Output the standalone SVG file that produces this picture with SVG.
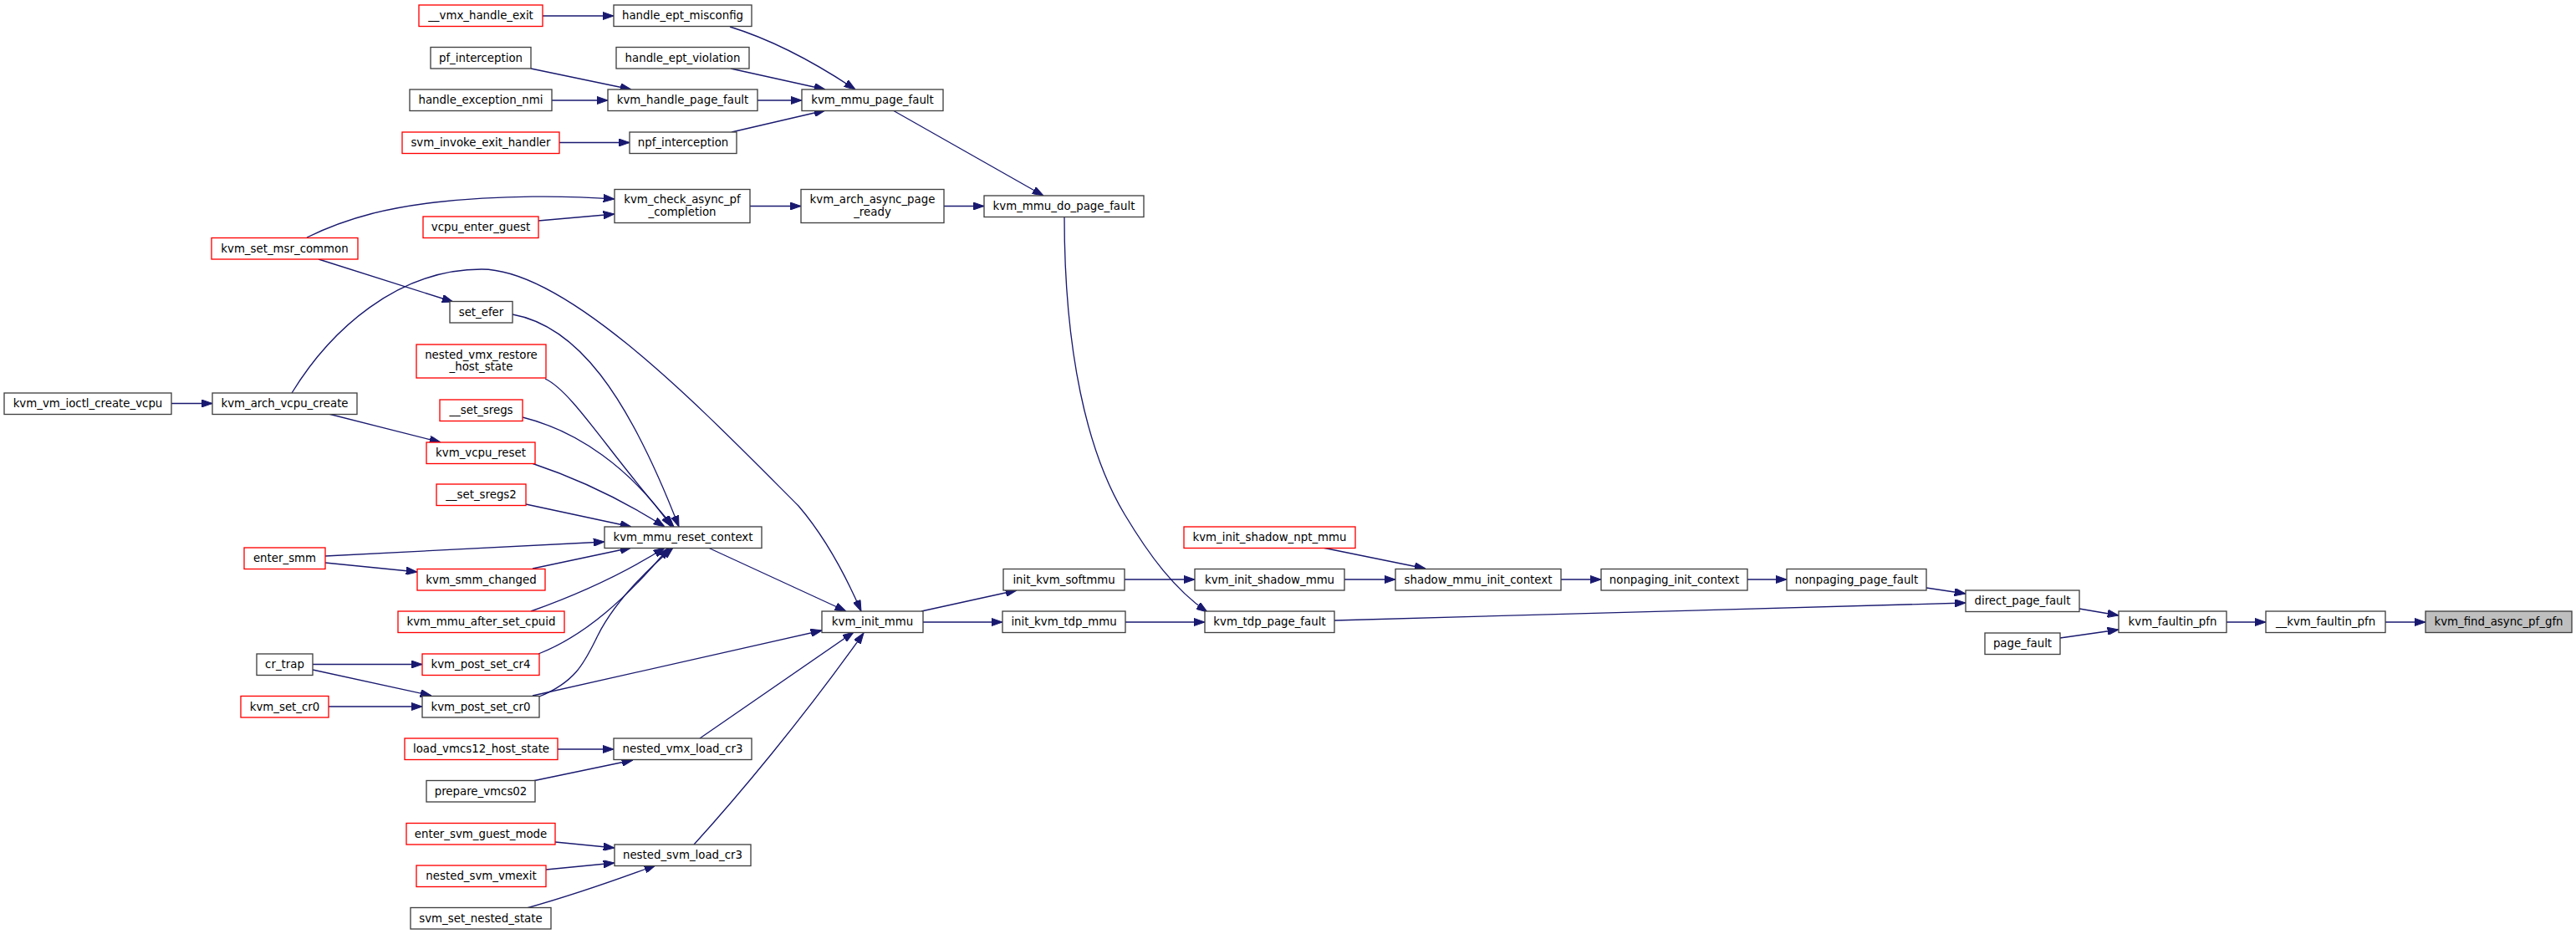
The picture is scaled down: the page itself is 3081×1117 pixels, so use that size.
<svg xmlns="http://www.w3.org/2000/svg" width="3081" height="1117" viewBox="0 0 3081 1117">
<style>
.n rect{fill:#ffffff;stroke:#404040;stroke-width:1.33}
.r rect{fill:#ffffff;stroke:#ff0000;stroke-width:1.33}
.root rect{fill:#bfbfbf;stroke:#404040;stroke-width:1.33}
text{font-family:"DejaVu Sans","Liberation Sans",sans-serif;font-size:13.33px;fill:#000000;text-anchor:middle}
.e path{fill:none;stroke:#191970;stroke-width:1.33;marker-end:url(#ah)}
</style>
<defs>
<marker id="ah" viewBox="0 0 13.3 9.34" refX="13.3" refY="4.67" markerWidth="13.3" markerHeight="9.34" markerUnits="userSpaceOnUse" orient="auto">
<path d="M0,0 L13.3,4.67 L0,9.34 Z" fill="#191970" stroke="#191970" stroke-width="1"/>
</marker>
</defs>
<rect width="3081" height="1117" fill="#ffffff"/>
<g id="connectors" class="e">
<path d="M2853,744 L2901,744"/>
<path d="M2663,744 L2710,744"/>
<path d="M2487,728 L2534,736"/>
<path d="M2464,763 L2534,753"/>
<path d="M2304,703 L2351,710"/>
<path d="M1596,742 L2351,721"/>
<path d="M2090,693 L2137,693"/>
<path d="M1867,693 L1915,693"/>
<path d="M1608,693 L1669,693"/>
<path d="M1582,655 L1705,680"/>
<path d="M1345,693 L1429,693"/>
<path d="M1273,259 C1273,420 1300,540 1345,615 C1375,665 1405,705 1444,732"/>
<path d="M1102,731 L1216,706"/>
<path d="M1104,744 L1199,744"/>
<path d="M1346,744 L1441,744"/>
<path d="M1068,132 L1248,234"/>
<path d="M1129,246.5 L1177,246.5"/>
<path d="M897,246.5 L958,246.5"/>
<path d="M873,32 C925,48 975,75 1023,107"/>
<path d="M874,82 L987,107"/>
<path d="M906,120 L959,120"/>
<path d="M875,158 L987,132"/>
<path d="M635,82 L755,107"/>
<path d="M660,120 L727,120"/>
<path d="M669,170.5 L753,170.5"/>
<path d="M649,19 L734,19"/>
<path d="M367,284 C420,258 470,248 520,242 C600,233 680,234 735,238"/>
<path d="M644,264 L735,256"/>
<path d="M381,310 L542,361"/>
<path d="M613,376 C690,390 750,470 812,630"/>
<path d="M652,453 C685,468 730,545 806,630"/>
<path d="M625,499 C690,515 755,560 803,630"/>
<path d="M636,554 C690,572 740,595 795,630"/>
<path d="M629,603 L755,630"/>
<path d="M349,470 C395,395 475,322 576,322 C680,322 845,495 955,605 C985,640 1010,685 1030,731"/>
<path d="M393,495 L527,529"/>
<path d="M205,482.5 L254,482.5"/>
<path d="M389,665 L723,648"/>
<path d="M389,673 L499,684"/>
<path d="M637,680 L755,655"/>
<path d="M635,731 C680,715 740,690 795,655"/>
<path d="M644,782 C700,760 750,715 800,655"/>
<path d="M645,833 C690,815 700,790 715,760 C735,720 770,685 805,655"/>
<path d="M637,832 L983,754"/>
<path d="M374,794.5 L505,794.5"/>
<path d="M374,801 L516,832"/>
<path d="M393,845 L505,845"/>
<path d="M847,655 L1012,731"/>
<path d="M837,883 L1021,756"/>
<path d="M830,1010 C880,955 960,860 1033,757"/>
<path d="M667,896 L734,896"/>
<path d="M637,934 L757,909"/>
<path d="M664,1007 L735,1014"/>
<path d="M653,1040 L735,1032"/>
<path d="M630,1086 C680,1072 730,1055 784,1035"/>
</g>
<g id="kvm_find_async_pf_gfn" class="root"><rect x="2901" y="731" width="175" height="25.5"/><text x="2988.5" y="748">kvm_find_async_pf_gfn</text></g>
<g id="__kvm_faultin_pfn" class="n"><rect x="2710" y="731" width="143" height="25.5"/><text x="2781.5" y="748">__kvm_faultin_pfn</text></g>
<g id="kvm_faultin_pfn" class="n"><rect x="2534" y="731" width="129" height="25.5"/><text x="2598.5" y="748">kvm_faultin_pfn</text></g>
<g id="direct_page_fault" class="n"><rect x="2351" y="706" width="136" height="25.5"/><text x="2419" y="723">direct_page_fault</text></g>
<g id="page_fault" class="n"><rect x="2374" y="757" width="90" height="25.5"/><text x="2419" y="774">page_fault</text></g>
<g id="nonpaging_page_fault" class="n"><rect x="2137" y="680.5" width="167" height="25.5"/><text x="2220.5" y="697.5">nonpaging_page_fault</text></g>
<g id="kvm_tdp_page_fault" class="n"><rect x="1441" y="731" width="155" height="25.5"/><text x="1518.5" y="748">kvm_tdp_page_fault</text></g>
<g id="nonpaging_init_context" class="n"><rect x="1915" y="680.5" width="175" height="25.5"/><text x="2002.5" y="697.5">nonpaging_init_context</text></g>
<g id="shadow_mmu_init_context" class="n"><rect x="1669" y="680.5" width="198" height="25.5"/><text x="1768" y="697.5">shadow_mmu_init_context</text></g>
<g id="kvm_init_shadow_mmu" class="n"><rect x="1429" y="680.5" width="179" height="25.5"/><text x="1518.5" y="697.5">kvm_init_shadow_mmu</text></g>
<g id="kvm_init_shadow_npt_mmu" class="r"><rect x="1416" y="630" width="205" height="25.5"/><text x="1518.5" y="647">kvm_init_shadow_npt_mmu</text></g>
<g id="init_kvm_softmmu" class="n"><rect x="1200" y="680.5" width="145" height="25.5"/><text x="1272.5" y="697.5">init_kvm_softmmu</text></g>
<g id="init_kvm_tdp_mmu" class="n"><rect x="1199" y="731" width="147" height="25.5"/><text x="1272.5" y="748">init_kvm_tdp_mmu</text></g>
<g id="kvm_init_mmu" class="n"><rect x="983" y="731" width="121" height="25.5"/><text x="1043.5" y="748">kvm_init_mmu</text></g>
<g id="kvm_mmu_do_page_fault" class="n"><rect x="1177" y="234" width="191" height="25.5"/><text x="1272.5" y="251">kvm_mmu_do_page_fault</text></g>
<g id="kvm_mmu_page_fault" class="n"><rect x="959" y="107" width="169" height="25.5"/><text x="1043.5" y="124">kvm_mmu_page_fault</text></g>
<g id="kvm_arch_async_page_ready" class="n"><rect x="958" y="226.5" width="171" height="40"/><text x="1043.5" y="243">kvm_arch_async_page</text><text x="1043.5" y="257.5">_ready</text></g>
<g id="kvm_check_async_pf_completion" class="n"><rect x="735" y="226.5" width="162" height="40"/><text x="816" y="243">kvm_check_async_pf</text><text x="816" y="257.5">_completion</text></g>
<g id="handle_ept_misconfig" class="n"><rect x="734" y="6" width="165" height="25.5"/><text x="816.5" y="23">handle_ept_misconfig</text></g>
<g id="__vmx_handle_exit" class="r"><rect x="501" y="6" width="148" height="25.5"/><text x="575" y="23">__vmx_handle_exit</text></g>
<g id="handle_ept_violation" class="n"><rect x="737" y="56.5" width="159" height="25.5"/><text x="816.5" y="73.5">handle_ept_violation</text></g>
<g id="kvm_handle_page_fault" class="n"><rect x="727" y="107" width="179" height="25.5"/><text x="816.5" y="124">kvm_handle_page_fault</text></g>
<g id="pf_interception" class="n"><rect x="515" y="56.5" width="120" height="25.5"/><text x="575" y="73.5">pf_interception</text></g>
<g id="handle_exception_nmi" class="n"><rect x="490" y="107" width="170" height="25.5"/><text x="575" y="124">handle_exception_nmi</text></g>
<g id="npf_interception" class="n"><rect x="753" y="158" width="128" height="25.5"/><text x="817" y="175">npf_interception</text></g>
<g id="svm_invoke_exit_handler" class="r"><rect x="481" y="158" width="188" height="25.5"/><text x="575" y="175">svm_invoke_exit_handler</text></g>
<g id="vcpu_enter_guest" class="r"><rect x="506" y="259" width="138" height="25.5"/><text x="575" y="276">vcpu_enter_guest</text></g>
<g id="kvm_set_msr_common" class="r"><rect x="253" y="284.5" width="175" height="25.5"/><text x="340.5" y="301.5">kvm_set_msr_common</text></g>
<g id="set_efer" class="n"><rect x="538" y="360.5" width="75" height="25.5"/><text x="575.5" y="377.5">set_efer</text></g>
<g id="kvm_vm_ioctl_create_vcpu" class="n"><rect x="5" y="470" width="200" height="25.5"/><text x="105" y="487">kvm_vm_ioctl_create_vcpu</text></g>
<g id="kvm_arch_vcpu_create" class="n"><rect x="254" y="470" width="173" height="25.5"/><text x="340.5" y="487">kvm_arch_vcpu_create</text></g>
<g id="nested_vmx_restore_host_state" class="r"><rect x="498" y="412" width="155" height="40"/><text x="575.5" y="428.5">nested_vmx_restore</text><text x="575.5" y="443">_host_state</text></g>
<g id="__set_sregs" class="r"><rect x="526" y="478" width="99" height="25.5"/><text x="575.5" y="495">__set_sregs</text></g>
<g id="kvm_vcpu_reset" class="r"><rect x="510" y="529" width="130" height="25.5"/><text x="575" y="546">kvm_vcpu_reset</text></g>
<g id="__set_sregs2" class="r"><rect x="522" y="579" width="107" height="25.5"/><text x="575.5" y="596">__set_sregs2</text></g>
<g id="kvm_mmu_reset_context" class="n"><rect x="723" y="630" width="188" height="25.5"/><text x="817" y="647">kvm_mmu_reset_context</text></g>
<g id="enter_smm" class="r"><rect x="292" y="655" width="97" height="25.5"/><text x="340.5" y="672">enter_smm</text></g>
<g id="kvm_smm_changed" class="r"><rect x="499" y="680.5" width="153" height="25.5"/><text x="575.5" y="697.5">kvm_smm_changed</text></g>
<g id="kvm_mmu_after_set_cpuid" class="r"><rect x="476" y="731" width="199" height="25.5"/><text x="575.5" y="748">kvm_mmu_after_set_cpuid</text></g>
<g id="cr_trap" class="n"><rect x="307" y="782" width="67" height="25.5"/><text x="340.5" y="799">cr_trap</text></g>
<g id="kvm_set_cr0" class="r"><rect x="288" y="832.5" width="105" height="25.5"/><text x="340.5" y="849.5">kvm_set_cr0</text></g>
<g id="kvm_post_set_cr4" class="r"><rect x="505" y="782" width="140" height="25.5"/><text x="575" y="799">kvm_post_set_cr4</text></g>
<g id="kvm_post_set_cr0" class="n"><rect x="505" y="832.5" width="140" height="25.5"/><text x="575" y="849.5">kvm_post_set_cr0</text></g>
<g id="load_vmcs12_host_state" class="r"><rect x="484" y="883" width="183" height="25.5"/><text x="575.5" y="900">load_vmcs12_host_state</text></g>
<g id="nested_vmx_load_cr3" class="n"><rect x="734" y="883" width="165" height="25.5"/><text x="816.5" y="900">nested_vmx_load_cr3</text></g>
<g id="prepare_vmcs02" class="n"><rect x="510" y="933.5" width="130" height="25.5"/><text x="575" y="950.5">prepare_vmcs02</text></g>
<g id="enter_svm_guest_mode" class="r"><rect x="486" y="984.5" width="178" height="25.5"/><text x="575" y="1001.5">enter_svm_guest_mode</text></g>
<g id="nested_svm_load_cr3" class="n"><rect x="735" y="1010" width="163" height="25.5"/><text x="816.5" y="1027">nested_svm_load_cr3</text></g>
<g id="nested_svm_vmexit" class="r"><rect x="498" y="1035" width="155" height="25.5"/><text x="575.5" y="1052">nested_svm_vmexit</text></g>
<g id="svm_set_nested_state" class="n"><rect x="491" y="1085.5" width="168" height="25.5"/><text x="575" y="1102.5">svm_set_nested_state</text></g>
</svg>
